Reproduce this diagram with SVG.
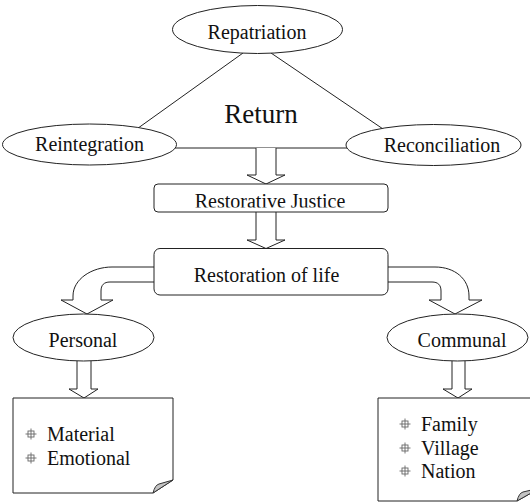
<svg xmlns="http://www.w3.org/2000/svg" width="530" height="503" viewBox="0 0 530 503">
<style>
text{font-family:'Liberation Serif','Times New Roman','DejaVu Serif',serif;font-size:20px;fill:#111}
.c{text-anchor:middle}
.ln{stroke:#222;stroke-width:1;fill:none}
.sh{fill:#fff;stroke:#222;stroke-width:1}
.fold{fill:#c4c4c4;stroke:#333;stroke-width:1}
.bul{fill:none;stroke:#666;stroke-width:0.9}
</style>
<defs>
<clipPath id="rjclip"><rect x="154" y="184" width="234" height="23.5"/></clipPath>
<g id="bullet"><rect x="-3" y="-3" width="6" height="6"/><line x1="-5.5" y1="0" x2="5.5" y2="0"/><line x1="0" y1="-5.5" x2="0" y2="5.5"/></g>
</defs>
<rect width="530" height="503" fill="#fff"/>
<g id="connectors">
<line class="ln" x1="243" y1="53" x2="134" y2="131"/>
<line class="ln" x1="271" y1="53" x2="386" y2="131"/>
<line class="ln" x1="165" y1="148" x2="365" y2="148"/>
<path class="sh" d="M256,148 V175 H247 L266,184 L285,175 H276 V148"/>
<path class="sh" d="M256,212 V240 H247 L266,248.5 L285,240 H276 V212"/>
<path class="sh" d="M156,267 H112 C92,267 73,279 73,296 V300 H61 L87,314 L113,300 H101 V291 C101,285 104,282 110,282 H156 Z"/>
<path class="sh" d="M386,267 H435 C455,267 469,279 469,296 V300 H482 L455,314 L429,300 H441 V291 C441,285 438,282 432,282 H386 Z"/>
<path class="sh" d="M77,361 V389 H69 L84,398 L98,389 H91 V361"/>
<path class="sh" d="M452,361 V389 H443 L458,398 L472,389 H465 V361"/>
</g>
<g font-family="Liberation Serif, Times New Roman, DejaVu Serif, serif">
<g id="return"><text class="c" x="261" y="123" style="font-size:27px">Return</text></g>
<g id="repatriation"><ellipse class="sh" cx="257.5" cy="29.5" rx="85" ry="24"/><text class="c" x="257" y="39">Repatriation</text></g>
<g id="reintegration"><ellipse class="sh" cx="89.5" cy="144.5" rx="87" ry="20.5"/><text class="c" x="89.5" y="151">Reintegration</text></g>
<g id="reconciliation"><ellipse class="sh" cx="433.5" cy="145" rx="87.5" ry="20.5"/><text class="c" x="442" y="152">Reconciliation</text></g>
<g id="restorative-justice"><rect class="sh" x="154" y="184" width="234" height="28" rx="4"/><text class="c" x="270" y="208" clip-path="url(#rjclip)">Restorative Justice</text></g>
<g id="restoration-of-life"><rect class="sh" x="154" y="248.5" width="234" height="46.5" rx="6"/><text class="c" x="266.5" y="282">Restoration of life</text></g>
<g id="personal"><ellipse class="sh" cx="83.5" cy="337.5" rx="70.5" ry="23.5"/><text class="c" x="83" y="347">Personal</text></g>
<g id="communal"><ellipse class="sh" cx="457.5" cy="337.5" rx="70.5" ry="23.5"/><text class="c" x="462" y="347">Communal</text></g>
<g id="personal-list">
<path class="sh" d="M13,398 H173 V480 L153,493 H13 Z"/>
<path class="fold" d="M153,493 Q155,485 159,484 L173,480 Z"/>
<use href="#bullet" class="bul" x="31" y="434"/>
<use href="#bullet" class="bul" x="31" y="458"/>
<text x="47" y="441">Material</text>
<text x="47" y="465">Emotional</text>
</g>
<g id="communal-list">
<path class="sh" d="M378,398 H540 V488 L517,501 H378 Z"/>
<path class="fold" d="M517,501 Q519,493 523,492 L540,488 Z"/>
<use href="#bullet" class="bul" x="405" y="424"/>
<use href="#bullet" class="bul" x="405" y="448"/>
<use href="#bullet" class="bul" x="405" y="471"/>
<text x="421" y="431">Family</text>
<text x="421" y="455">Village</text>
<text x="421" y="478">Nation</text>
</g>
</g>
</svg>
